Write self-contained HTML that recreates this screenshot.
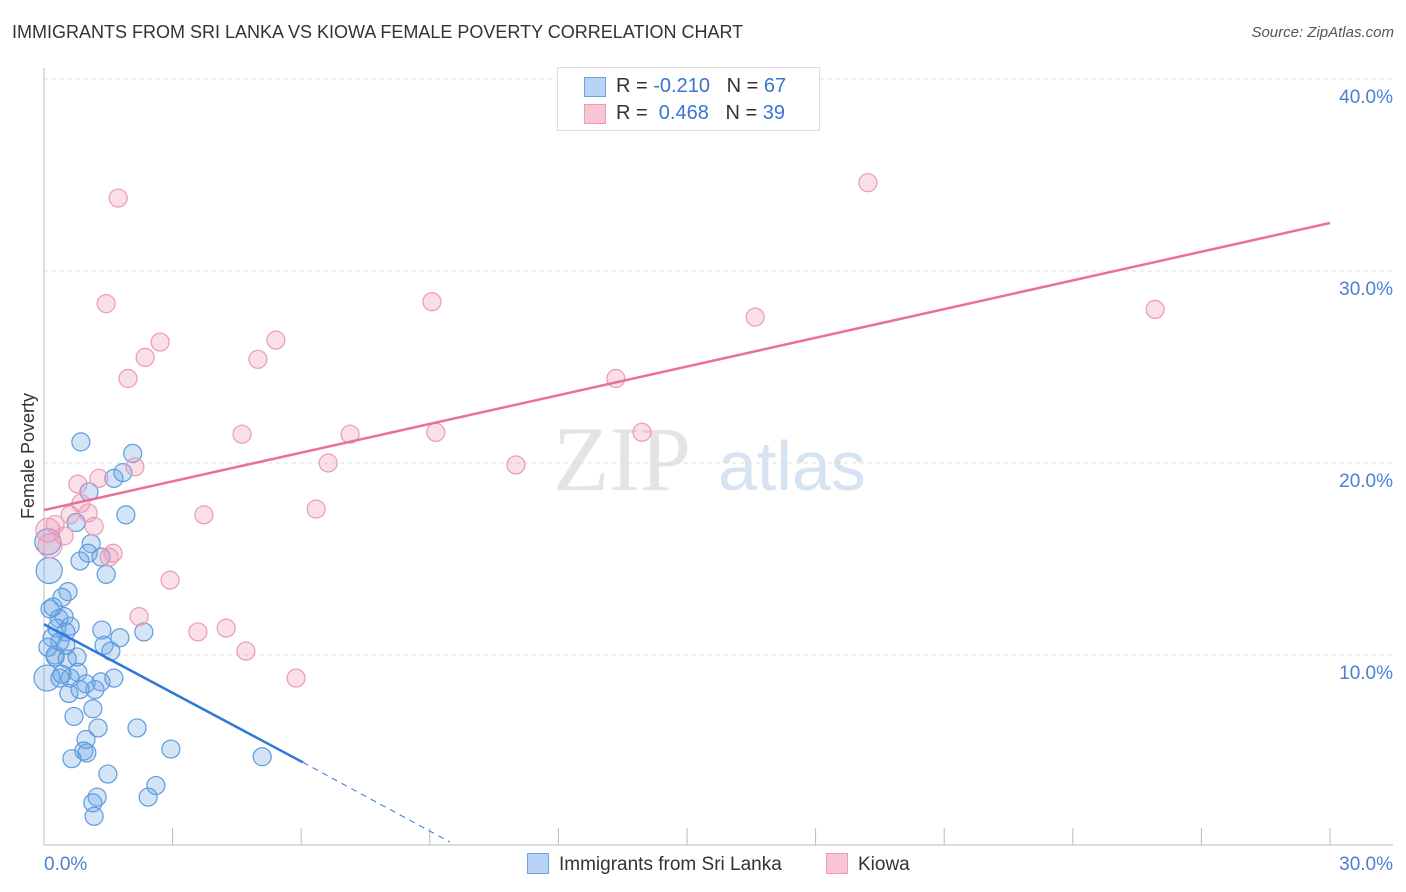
<!DOCTYPE html>
<html><head><meta charset="utf-8"><style>
body{margin:0;background:#fff;font-family:"Liberation Sans",sans-serif;}
#wrap{position:relative;width:1406px;height:892px;overflow:hidden;}
.t{position:absolute;white-space:nowrap;}
</style></head><body>
<div id="wrap">
<div class="t" style="left:12px;top:22px;font-size:18px;color:#333;">IMMIGRANTS FROM SRI LANKA VS KIOWA FEMALE POVERTY CORRELATION CHART</div>
<div class="t" style="right:12px;top:24px;font-size:15px;color:#555;font-style:italic;">Source: ZipAtlas.com</div>
<svg id="svg" width="1406" height="892" style="position:absolute;left:0;top:0"></svg>
</div>
<script>
const xTicksPct=[0,30];
const yTicks=[10,20,30,40];
const blueX=[0.86,2.07,1.05,1.63,1.84,1.91,0.75,1.1,1.03,1.33,0.84,1.45,0.12,0.09,0.56,0.42,0.47,0.35,0.14,0.3,0.61,0.51,0.19,0.37,0.26,0.54,0.77,0.51,0.79,0.37,0.61,0.98,1.35,1.4,1.56,2.33,1.33,1.63,0.58,1.14,0.7,1.26,2.17,0.98,0.93,1.0,0.65,2.96,5.09,1.49,2.61,1.24,2.43,1.14,1.17,0.26,0.09,0.21,0.07,0.42,1.19,1.77,0.84];
const blueY=[21.1,20.5,18.5,19.2,19.5,17.3,16.9,15.8,15.3,15.1,14.9,14.2,14.4,15.9,13.3,13.0,12.0,11.9,12.4,11.4,11.5,11.2,10.9,10.7,9.9,9.8,9.9,10.5,9.1,8.8,8.8,8.5,11.3,10.5,10.2,11.2,8.6,8.8,8.0,7.2,6.8,6.2,6.2,5.6,5.0,4.9,4.6,5.1,4.7,3.8,3.2,2.6,2.6,2.3,1.6,10.0,10.4,12.5,8.8,9.0,8.2,10.9,8.2];
const pinkX=[1.73,19.22,1.45,9.05,2.71,5.41,2.36,4.99,1.96,16.59,25.92,13.34,4.62,7.14,9.14,13.95,6.63,11.01,2.12,1.28,0.79,0.86,0.61,1.03,1.17,0.26,0.09,3.73,6.35,1.61,1.52,2.94,2.22,3.59,4.25,4.71,5.88,0.47,0.14];
const pinkY=[33.8,34.6,28.3,28.4,26.3,26.4,25.5,25.4,24.4,27.6,28.0,24.4,21.5,21.5,21.6,21.6,20.0,19.9,19.8,19.2,18.9,17.9,17.3,17.4,16.7,16.8,16.5,17.3,17.6,15.3,15.1,13.9,12.0,11.2,11.4,10.2,8.8,16.2,15.7];
const pinkTrend=[[0,17.55],[30,32.5]];
const blueTrend=[[0,11.6],[6.04,4.41]];
const blueDash=[[6.04,4.41],[9.47,0.26]];
const X=v=>44+v/30*1286, Y=v=>847-v*19.2;
const s=document.getElementById('svg');const NS='http://www.w3.org/2000/svg';
function mk(tag,at,parent){const e=document.createElementNS(NS,tag);for(const k in at)e.setAttribute(k,at[k]);(parent||s).appendChild(e);return e;}
// watermark
let wm=mk('text',{x:553,y:490,'font-size':92,fill:'#e4e4e4','font-family':'Liberation Serif,serif'});wm.textContent='ZIP';


let wm2=mk('text',{x:718,y:490,'font-size':70,fill:'#d6e3f3','font-family':'Liberation Sans,sans-serif'});wm2.textContent='atlas';


yTicks.forEach(v=>{
 const g=mk('line',{x1:44,x2:1393,y1:Y(v),y2:Y(v),stroke:'#ddd','stroke-dasharray':'4,4'});
 
 
 const t=mk('text',{x:1393,y:Y(v)+24,'text-anchor':'end','font-size':19,fill:'#4a7fd4','font-family':'Liberation Sans,sans-serif'});t.textContent=v.toFixed(1)+'%';
 
 
});
mk('line',{x1:44,x2:44,y1:68,y2:845,stroke:'#bbb'});
mk('line',{x1:44,x2:1393,y1:845,y2:845,stroke:'#bbb'});
for(let i=0;i<=10;i++){const tk=mk('line',{x1:X(i*3),x2:X(i*3),y1:828,y2:845,stroke:'#bbb'});
 
 }
xTicksPct.forEach((v,i)=>{const t=mk('text',{x:i?1393:44,y:870,'text-anchor':i?'end':'start','font-size':19,fill:'#4a7fd4','font-family':'Liberation Sans,sans-serif'});t.textContent=v.toFixed(1)+'%';
 
 });
const yl=mk('text',{transform:'translate(34,456) rotate(-90)','text-anchor':'middle','font-size':18,fill:'#333','font-family':'Liberation Sans,sans-serif'});yl.textContent='Female Poverty';


blueX.forEach((x,i)=>{const r=(x<0.15&&(blueY[i]>14||blueY[i]<9.5))?13:9;
 const c=mk('circle',{cx:X(x),cy:Y(blueY[i]),r:r,fill:'rgba(110,165,230,0.3)',stroke:'#5e9be0','stroke-width':1.2});
 
 });
pinkX.forEach((x,i)=>{const c=mk('circle',{cx:X(x),cy:Y(pinkY[i]),r:x<0.2?12:9,fill:'rgba(240,150,180,0.3)',stroke:'#eb9ab5','stroke-width':1.2});
 
 });
const pl=mk('line',{x1:X(pinkTrend[0][0]),y1:Y(pinkTrend[0][1]),x2:X(pinkTrend[1][0]),y2:Y(pinkTrend[1][1]),stroke:'#e8709a','stroke-width':2.5});


const bl=mk('line',{x1:X(blueTrend[0][0]),y1:Y(blueTrend[0][1]),x2:X(blueTrend[1][0]),y2:Y(blueTrend[1][1]),stroke:'#2f78db','stroke-width':2.5});


const bd=mk('line',{x1:X(blueDash[0][0]),y1:Y(blueDash[0][1]),x2:X(blueDash[1][0]),y2:Y(blueDash[1][1]),stroke:'#2f78db','stroke-width':1,'stroke-dasharray':'6,5'});


</script>
<div class="t" style="left:557px;top:67px;width:261px;height:62px;border:1px solid #ddd;background:#fff;font-size:20px;color:#333;">
 <div style="position:absolute;left:26px;top:9px;width:20px;height:18px;background:#b8d3f5;border:1px solid #6fa2e2;"></div>
 <div style="position:absolute;left:58px;top:7px;">R = <span style="color:#3a74d0">-0.210</span>&nbsp;&nbsp;&nbsp;N = <span style="color:#3a74d0">67</span></div>
 <div style="position:absolute;left:26px;top:36px;width:20px;height:18px;background:#f8c5d5;border:1px solid #ec9ab6;"></div>
 <div style="position:absolute;left:58px;top:34px;">R = &nbsp;<span style="color:#3a74d0">0.468</span>&nbsp;&nbsp;&nbsp;N = <span style="color:#3a74d0">39</span></div>
</div>
<div class="t" style="left:527px;top:853px;font-size:19px;color:#333;"><span style="display:inline-block;width:20px;height:19px;background:#b8d3f5;border:1px solid #6fa2e2;vertical-align:-4px;margin-right:10px;"></span>Immigrants from Sri Lanka</div>
<div class="t" style="left:826px;top:853px;font-size:19px;color:#333;"><span style="display:inline-block;width:20px;height:19px;background:#f8c5d5;border:1px solid #ec9ab6;vertical-align:-4px;margin-right:10px;"></span>Kiowa</div>
</body></html>
